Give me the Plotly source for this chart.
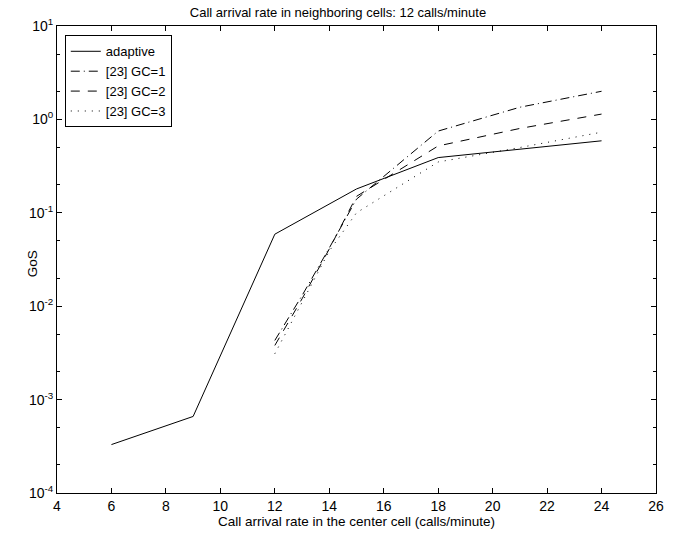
import plotly.graph_objects as go

# Call arrival rate in the center cell (calls/minute)
x_adaptive = [6, 9, 12, 15, 18, 24]
gos_adaptive = [3.3e-4, 6.6e-4, 0.059, 0.18, 0.39, 0.59]

x_ref = [12, 13, 14, 15, 18, 21, 24]
gos_gc1 = [0.0043, 0.013, 0.042, 0.14, 0.75, 1.35, 2.0]
gos_gc2 = [0.0038, 0.012, 0.041, 0.15, 0.52, 0.80, 1.14]
gos_gc3 = [0.0031, 0.011, 0.039, 0.10, 0.35, 0.50, 0.73]

x_ticks = list(range(4, 27, 2))
y_exponents = [-4, -3, -2, -1, 0, 1]

font_family = "Liberation Sans, Arial, Helvetica, sans-serif"
ink = "black"

fig = go.Figure()
series = [
    ("adaptive", x_adaptive, gos_adaptive, "solid"),
    ("[23] GC=1", x_ref, gos_gc1, "9px,4px,1px,4px"),
    ("[23] GC=2", x_ref, gos_gc2, "9px,8px"),
    ("[23] GC=3", x_ref, gos_gc3, "1px,6px"),
]
for name, xs, ys, dash in series:
    fig.add_trace(go.Scatter(
        x=xs, y=ys, name=name, mode="lines",
        line=dict(color=ink, width=1, dash=dash),
    ))

axis_common = dict(
    showline=True, linecolor=ink, linewidth=1, mirror="allticks",
    ticks="inside", tickcolor=ink, ticklen=5,
    showgrid=False, zeroline=False,
    tickfont=dict(family=font_family, size=14, color=ink),
)

fig.update_layout(
    width=676, height=538,
    margin=dict(l=57, r=19, t=26, b=41),
    paper_bgcolor="white", plot_bgcolor="white",
    font=dict(family=font_family, size=13, color=ink),
    title=dict(
        text="Call arrival rate in neighboring cells: 12 calls/minute",
        x=0.5, xanchor="center", y=0.985, yanchor="top",
        font=dict(family=font_family, size=13, color=ink),
    ),
    xaxis=dict(
        range=[4, 26], tickvals=x_ticks,
        title=dict(text="Call arrival rate in the center cell (calls/minute)",
                   standoff=3, font=dict(family=font_family, size=13.5)),
        **axis_common,
    ),
    yaxis=dict(
        type="log", range=[-4, 1],
        tickvals=[10.0 ** e for e in y_exponents],
        ticktext=[f"10<sup>{e}</sup>" for e in y_exponents],
        minor=dict(ticks="inside", ticklen=3, tickcolor=ink, showgrid=False),
        **axis_common,
    ),
    legend=dict(
        x=0.013, y=0.98, xanchor="left", yanchor="top",
        bgcolor="white", bordercolor=ink, borderwidth=1,
        font=dict(family=font_family, size=13, color=ink),
        tracegroupgap=0, itemwidth=30,
    ),
    showlegend=True,
    annotations=[dict(
        text="GoS", textangle=-90, xref="paper", yref="paper",
        x=0, y=0.49, xanchor="center", yanchor="middle", xshift=-25,
        showarrow=False, font=dict(family=font_family, size=13.5, color=ink),
    )],
)

fig.write_html("out.html")
